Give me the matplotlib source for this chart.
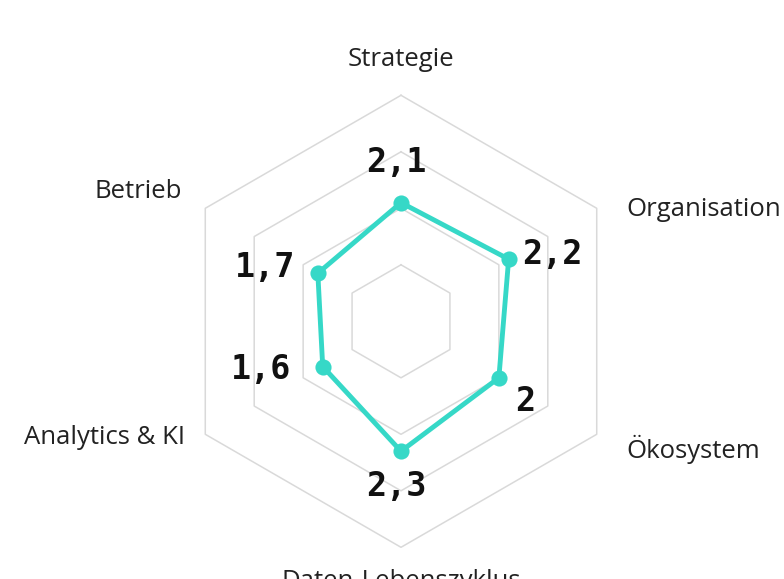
import numpy as np
import matplotlib
matplotlib.use("Agg")
import matplotlib.pyplot as plt

# ---- data ----
categories = ["Strategie", "Organisation", "Ökosystem", "Daten-Lebenszyklus", "Analytics & KI", "Betrieb"]
values = [2.1, 2.2, 2.0, 2.3, 1.6, 1.7]
value_labels = ["2,1", "2,2", "2", "2,3", "1,6", "1,7"]
grid_levels = [1, 2, 3, 4]

# ---- layout (pixels) ----
W, H = 784, 579
cx, cy = 401, 321.3          # centre in pixels (from top)
unit = 56.5                  # pixels per value unit

# category label anchor positions (pixel coords from top-left) and alignment
cat_pos = [(401, 57, "center"), (626, 207, "left"), (626, 446, "left"),
           (401, 578, "center"), (185, 435, "right"), (182, 189, "right")]
# data label offsets in pixels relative to the point (dx right, dy up)
lab_off = [(-5, 44), (44, 8), (26, -20), (-5, -32), (-62, 1), (-53, 9)]

LINE = "#36D8C7"
GRID = "#D9D9D9"

fig = plt.figure(figsize=(W / 100, H / 100), dpi=100)
ax = fig.add_axes([0, 0, 1, 1])
ax.set_xlim(-cx / unit, (W - cx) / unit)
ax.set_ylim(-(H - cy) / unit, cy / unit)
ax.axis("off")

n = len(categories)
ang = np.pi / 2 - np.arange(n) * 2 * np.pi / n

# hexagonal grid
for lv in grid_levels:
    xs = np.append(lv * np.cos(ang), lv * np.cos(ang[0]))
    ys = np.append(lv * np.sin(ang), lv * np.sin(ang[0]))
    ax.plot(xs, ys, color=GRID, lw=1.1, zorder=1)

# data polygon
v = np.array(values)
px = v * np.cos(ang)
py = v * np.sin(ang)
ax.plot(np.append(px, px[0]), np.append(py, py[0]), color=LINE, lw=3.5,
        solid_joinstyle="round", zorder=3)
ax.scatter(px, py, s=135, color=LINE, zorder=4, linewidths=0)

# data labels
for x, y, t, (dx, dy) in zip(px, py, value_labels, lab_off):
    ax.annotate(t, (x, y), xytext=(dx, dy), textcoords="offset pixels",
                ha="center", va="center_baseline", fontsize=24,
                fontweight="bold", family="DejaVu Sans Mono", color="#111111",
                zorder=5)

# category labels
for name, (lx, ly, ha) in zip(categories, cat_pos):
    ax.text((lx - cx) / unit, (cy - ly) / unit, name, ha=ha, va="center_baseline",
            fontsize=18.5, family="Open Sans", color="#222222")

fig.savefig("out.png", dpi=100)
